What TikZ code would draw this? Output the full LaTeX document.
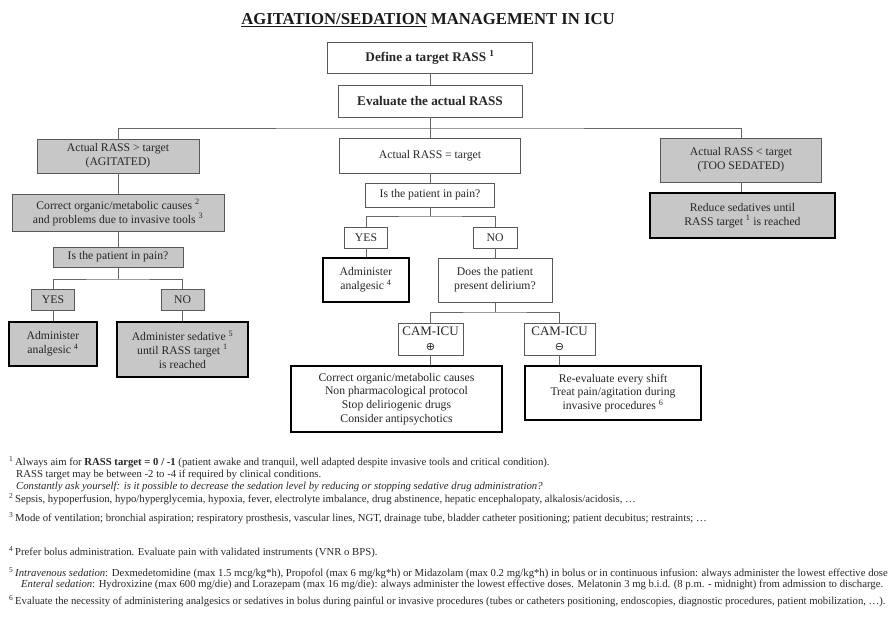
\documentclass[tikz,border=0pt]{standalone}
\usepackage{fontspec}
\setmainfont{Liberation Serif}
\newfontfamily\symfont{DejaVu Sans}
\begin{document}
\begin{tikzpicture}[x=1pt,y=-1pt,
  box/.style={draw=black!65, line width=0.8pt, inner sep=0pt, align=center, text=black!85,
    font=\fontsize{11.7}{13.8}\selectfont},
  gbox/.style={box, fill=black!22},
  act/.style={draw=black, line width=2pt},
  bbox/.style={box, font=\fontsize{13.2}{15}\selectfont\bfseries},
  cam/.style={box, minimum height=32pt, font=\fontsize{13}{15.5}\selectfont},
  conn/.style={draw=black!60, line width=0.8pt},
  fn/.style={anchor=base west, inner sep=0pt, text=black!85, font=\fontsize{10.7}{12}\selectfont}]
\useasboundingbox (0,0) rectangle (894,622);

% title
\node[inner sep=0pt, font=\fontsize{16.7}{18}\selectfont\bfseries, text=black!90] (title) at (428,20)
  {\underline{AGITATION/SEDATION} MANAGEMENT IN ICU};

% top
\node[bbox, minimum width=205pt, minimum height=31pt] (def) at (430,57.5) {Define a target RASS \textsuperscript{1}};
\node[bbox, minimum width=184pt, minimum height=32pt] (eval) at (430,101) {Evaluate the actual RASS};

% three branches
\node[gbox, minimum width=162pt, minimum height=34pt] (left1) at (118,156) {Actual RASS > target\\(AGITATED)};
\node[box, minimum width=181pt, minimum height=35pt] (mid1) at (430,155.5) {Actual RASS = target};
\node[gbox, minimum width=161pt, minimum height=44pt] (right1) at (741,160) {Actual RASS < target\\(TOO SEDATED)};

% left column
\node[gbox, minimum width=212pt, minimum height=37pt] (left2) at (118,212.5)
  {Correct organic/metabolic causes \textsuperscript{2}\\and problems due to invasive tools \textsuperscript{3}};
\node[gbox, minimum width=130pt, minimum height=20pt] (left3) at (118,257) {Is the patient in pain?};
\node[gbox, minimum width=43pt, minimum height=21pt] (leftyes) at (53,299.5) {YES};
\node[gbox, minimum width=43pt, minimum height=21pt] (leftno) at (182.5,299.5) {NO};
\node[gbox, act, minimum width=88pt, minimum height=44pt] (lefta) at (53,344) {Administer\\analgesic \textsuperscript{4}};
\node[gbox, act, minimum width=131pt, minimum height=55pt] (lefts) at (182.5,349.5)
  {Administer sedative \textsuperscript{5}\\until RASS target \textsuperscript{1}\\is reached};

% middle column
\node[box, minimum width=129pt, minimum height=24pt] (mid2) at (430,195) {Is the patient in pain?};
\node[box, minimum width=43pt, minimum height=21pt] (midyes) at (366,237.5) {YES};
\node[box, minimum width=44pt, minimum height=21pt] (midno) at (495,237.5) {NO};
\node[box, act, minimum width=86pt, minimum height=44pt] (mida) at (366,280) {Administer\\analgesic \textsuperscript{4}};
\node[box, minimum width=114pt, minimum height=44pt] (midd) at (495,280) {Does the patient\\present delirium?};
\node[cam, minimum width=65pt] (campos) at (430.5,339) {CAM-ICU\\{\symfont\fontsize{11}{11}\selectfont ⊕}};
\node[cam, minimum width=71pt] (camneg) at (559.5,339) {CAM-ICU\\{\symfont\fontsize{11}{11}\selectfont ⊖}};
\node[box, act, minimum width=211pt, minimum height=66pt] (midbl) at (396.5,399)
  {Correct organic/metabolic causes\\Non pharmacological protocol\\Stop deliriogenic drugs\\Consider antipsychotics};
\node[box, act, minimum width=176pt, minimum height=54pt] (midbr) at (613,393)
  {Re-evaluate every shift\\Treat pain/agitation during\\invasive procedures \textsuperscript{6}};

% right column
\node[gbox, act, minimum width=185pt, minimum height=45pt] (right2) at (742.5,215.5)
  {Reduce sedatives until\\RASS target \textsuperscript{1} is reached};

% connectors
\coordinate (bus) at (430,128);
\coordinate (lbus) at (118,279);
\coordinate (mbus) at (430,216);
\coordinate (dbus) at (495,312);
\draw[conn] (def) -- (eval);
\draw[conn] (eval.south) -- (mid1.north);
\draw[conn] (left1.north) |- (bus) -| (right1.north);
\draw[conn] (left1) -- (left2);
\draw[conn] (left2) -- (left3);
\draw[conn] (left3.south) -- (lbus);
\draw[conn] (leftyes.north) |- (lbus) -| (leftno.north);
\draw[conn] (leftyes) -- (lefta);
\draw[conn] (leftno) -- (lefts);
\draw[conn] (mid1) -- (mid2);
\draw[conn] (mid2.south) -- (mbus);
\draw[conn] (midyes.north) |- (mbus) -| (midno.north);
\draw[conn] (midyes) -- (mida);
\draw[conn] (midno) -- (midd);
\draw[conn] (midd.south) -- (dbus);
\draw[conn] (campos.north) |- (dbus) -| (camneg.north);
\draw[conn] (campos.south) -- (campos.south |- midbl.north);
\draw[conn] (camneg.south) -- (camneg.south |- midbr.north);
\draw[conn] (right1.south) -- (right1.south |- right2.north);

% footnotes
\node[fn] (f1a) at (15,465) {\llap{\textsuperscript{1}\,}Always aim for \textbf{RASS target = 0 / -1} (patient awake and tranquil, well adapted despite invasive tools and critical condition).};
\node[fn] (f1b) at (16,477) {RASS target may be between -2 to -4 if required by clinical conditions.};
\node[fn] (f1c) at (16,489) {\textit{Constantly ask yourself: is it possible to decrease the sedation level by reducing or stopping sedative drug administration?}};
\node[fn] (f2) at (15,502) {\llap{\textsuperscript{2}\,}Sepsis, hypoperfusion, hypo/hyperglycemia, hypoxia, fever, electrolyte imbalance, drug abstinence, hepatic encephalopaty, alkalosis/acidosis, \dots};
\node[fn] (f3) at (15,521) {\llap{\textsuperscript{3}\,}Mode of ventilation; bronchial aspiration; respiratory prosthesis, vascular lines, NGT, drainage tube, bladder catheter positioning; patient decubitus; restraints; \dots};
\node[fn] (f4) at (15,555) {\llap{\textsuperscript{4}\,}Prefer bolus administration. Evaluate pain with validated instruments (VNR o BPS).};
\node[fn] (f5a) at (15,576) {\llap{\textsuperscript{5}\,}\textit{Intravenous sedation}: Dexmedetomidine (max 1.5 mcg/kg*h), Propofol (max 6 mg/kg*h) or Midazolam (max 0.2 mg/kg*h) in bolus or in continuous infusion: always administer the lowest effective dose};
\node[fn] (f5b) at (21,587) {\textit{Enteral sedation}: Hydroxizine (max 600 mg/die) and Lorazepam (max 16 mg/die): always administer the lowest effective doses. Melatonin 3 mg b.i.d. (8 p.m. - midnight) from admission to discharge.};
\node[fn] (f6) at (15,604) {\llap{\textsuperscript{6}\,}Evaluate the necessity of administering analgesics or sedatives in bolus during painful or invasive procedures (tubes or catheters positioning, endoscopies, diagnostic procedures, patient mobilization, \dots).};
\end{tikzpicture}
\end{document}
